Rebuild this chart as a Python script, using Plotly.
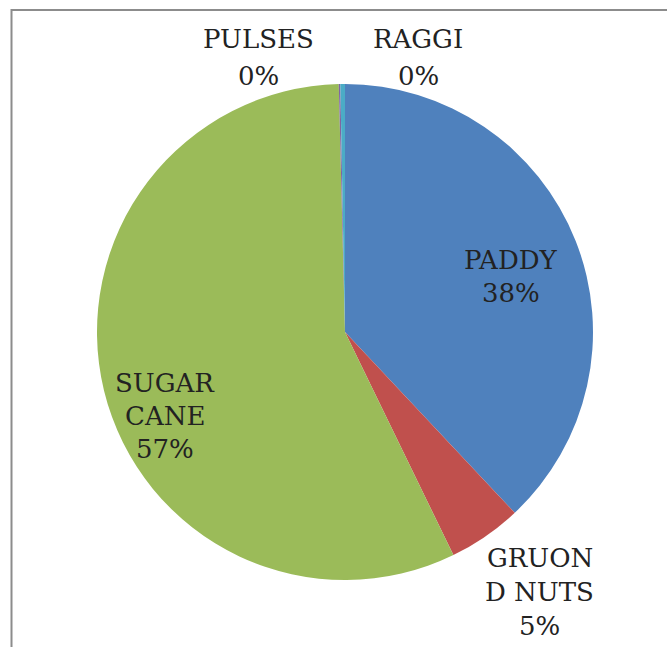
import plotly.graph_objects as go

# ---- data ----
categories = ["PADDY", "GRUOND NUTS", "SUGAR CANE", "PULSES", "RAGGI"]
label_lines = [["PADDY"], ["GRUON", "D NUTS"], ["SUGAR", "CANE"], ["PULSES"], ["RAGGI"]]
values = [38.0, 4.8, 56.8, 0.1, 0.3]

# ---- style ----
colors = ["#4F81BD", "#C0504D", "#9BBB59", "#8064A2", "#4BACC6"]
W, H = 667, 647
cx, cy, R = 345, 332, 248  # pie center / radius in pixels
# label block centre relative to pie centre, in radius units (x right, y up)
label_offsets = [(0.67, 0.225), (0.785, -1.05), (-0.725, -0.34), (-0.35, 1.105), (0.295, 1.105)]
line_gap = [33, 34, 33, 37, 37]
font = dict(family="DejaVu Serif", size=26, color="#222222")

fig = go.Figure(go.Pie(
    labels=categories,
    values=values,
    sort=False,
    direction="clockwise",
    rotation=0,
    marker=dict(colors=colors, line=dict(width=0)),
    textinfo="none",
    showlegend=False,
    domain=dict(x=[(cx - R) / W, (cx + R) / W], y=[(H - cy - R) / H, (H - cy + R) / H]),
))

total = sum(values)
annotations = []
for lines, v, (ox, oy), gap in zip(label_lines, values, label_offsets, line_gap):
    pct = f"{round(100 * v / total)}%"
    all_lines = lines + [pct]
    n = len(all_lines)
    px = cx + ox * R
    py = cy - oy * R
    for i, t in enumerate(all_lines):
        ly = py + (i - (n - 1) / 2) * gap
        annotations.append(dict(
            x=px / W, y=1 - ly / H, xref="paper", yref="paper",
            text=t, showarrow=False, font=font,
            xanchor="center", yanchor="middle",
        ))

fig.update_layout(
    width=W, height=H,
    margin=dict(l=0, r=0, t=0, b=0),
    paper_bgcolor="white",
    plot_bgcolor="white",
    annotations=annotations,
    shapes=[dict(type="rect", xref="paper", yref="paper",
                 x0=11.5 / W, x1=1.2, y0=-0.2, y1=1 - 10 / H,
                 line=dict(color="#8c8c8c", width=2))],
)

fig.write_html("out.html")
